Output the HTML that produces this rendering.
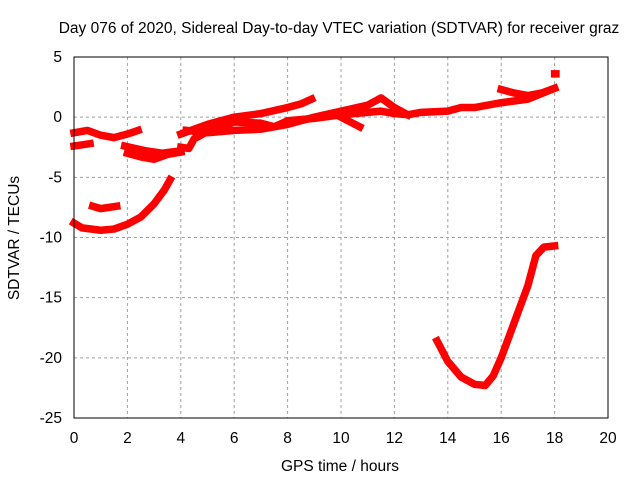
<!DOCTYPE html>
<html><head><meta charset="utf-8"><style>
body{margin:0;background:#fff}
svg{display:block;font-family:"Liberation Sans",sans-serif;font-size:15.5px}
</style></head><body>
<svg id="chart" width="640" height="480" viewBox="0 0 640 480">
<text x="339" y="33" text-anchor="middle">Day 076 of 2020, Sidereal Day-to-day VTEC variation (SDTVAR) for receiver graz</text>
<text x="340" y="471" text-anchor="middle">GPS time / hours</text>
<text transform="translate(19,238) rotate(-90)" text-anchor="middle">SDTVAR / TECUs</text>
<g id="grid"></g><g id="ticks"></g><g id="marks"></g>
<rect x="74" y="57" width="534" height="361" fill="none" stroke="#000" stroke-width="1"/>
</svg>
<script>
const xTicks=[0,2,4,6,8,10,12,14,16,18,20];
const yTicks=[5,0,-5,-10,-15,-20,-25];
const s1=[[0,-1.3],[0.5,-1.1],[1,-1.5],[1.5,-1.7],[2,-1.4],[2.4,-1.1]];
const s2=[[0,-2.4],[0.6,-2.2]];
const s3=[[2,-3],[2.5,-3.3],[3,-3.5],[3.5,-3.1],[4,-2.9]];
const s3b=[[1.9,-2.4],[2.7,-2.8],[3.3,-3.0],[4,-2.8]];
const s4=[[0,-8.8],[0.3,-9.2],[1,-9.4],[1.5,-9.3],[2,-8.9],[2.5,-8.3],[3,-7.2],[3.4,-6],[3.6,-5.2]];
const s5=[[0.7,-7.4],[1,-7.6],[1.6,-7.4]];
const s6=[[4,-2.5],[4.3,-2.6],[4.5,-1.8],[5,-1.2],[6,-0.4],[7,-0.5],[7.5,-0.8],[8,-0.3],[9,-0.1],[10,0.2],[11,0.4],[11.5,0.5],[12,0.3],[12.5,0.2],[13,0.4],[14,0.5],[14.5,0.8],[15,0.8],[16,1.2],[17,1.5],[18,2.4]];
const s7=[[4,-1.4],[5,-0.6],[6,0],[7,0.3],[8,0.8],[8.5,1.1],[8.9,1.5]];
const s8=[[4.2,-1.1],[5,-1.3],[6,-1.1],[7,-1.0],[8,-0.6],[9,0],[10,0.5],[11,1.0],[11.5,1.6],[12,0.8],[12.5,0.2]];
const s8b=[[10,0],[10.7,-0.8]];
const s9=[[16,2.3],[16.5,2.0],[17,1.8],[17.5,2.0],[18,2.4]];
const s10=[[18,3.6],[18.05,3.6]];
const s11=[[13.6,-18.6],[14,-20.3],[14.5,-21.6],[15,-22.2],[15.4,-22.3],[15.7,-21.5],[16,-20],[16.5,-17],[17,-14],[17.3,-11.5],[17.6,-10.8],[18,-10.7]];
const series=[s1,s2,s3,s3b,s4,s5,s6,s7,s8,s8b,s9,s10,s11];
const X=h=>74+h*534/20, Y=v=>57+(5-v)*361/30;
const NS="http://www.w3.org/2000/svg";
function mk(t,a,p){const e=document.createElementNS(NS,t);for(const k in a)e.setAttribute(k,a[k]);p.appendChild(e);return e;}
const grid=document.getElementById('grid'),ticks=document.getElementById('ticks'),marks=document.getElementById('marks');
xTicks.forEach(t=>{
  if(t>0&&t<20){const g=mk('line',{x1:X(t),x2:X(t),y1:57,y2:418,stroke:'#a0a0a0','stroke-dasharray':'3,3'},grid);
  
  }
  const l=mk('text',{x:X(t),y:443,'text-anchor':'middle'},ticks);l.textContent=t;
  
  
});
yTicks.forEach(t=>{
  if(t<5&&t>-25){const g=mk('line',{x1:74,x2:608,y1:Y(t),y2:Y(t),stroke:'#a0a0a0','stroke-dasharray':'3,3'},grid);
  
  }
  const l=mk('text',{x:62,y:Y(t)+5,'text-anchor':'end'},ticks);l.textContent=t;
  
  
});
series.forEach((s,i)=>{
  const p=mk('polyline',{points:s.map(d=>X(d[0])+','+Y(d[1])).join(' '),fill:'none',stroke:'#f00','stroke-width':7.5,'stroke-linejoin':'round','stroke-linecap':'square'},marks);
  
  
});
</script>
</body></html>
